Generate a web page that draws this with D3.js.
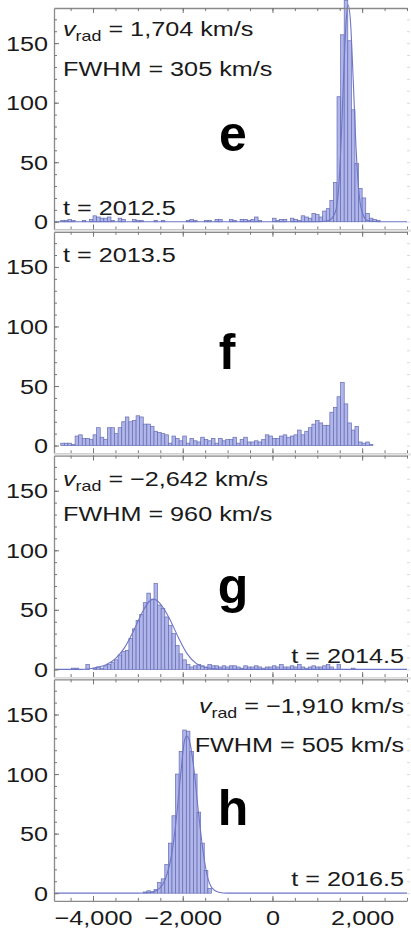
<!DOCTYPE html>
<html>
<head>
<meta charset="utf-8">
<script src="https://cdn.jsdelivr.net/npm/d3@7"></script>
<style>
  body { margin: 0; background: #fff; }
  svg { display: block; }
</style>
</head>
<body>
<svg id="chart" width="411" height="930"></svg>
<script>
// histogram bins: 80 km/s wide, first edge at -4720
const binStart = -4720;
const binWidth = 80;

const countsE = [
  1, 1, 2, 1, 0, 0, 1, 0, 2, 5,
  4, 3, 3, 4, 1, 0, 3, 2, 0, 0,
  2, 1, 1, 0, 0, 0, 1, 0, 1, 0,
  0, 0, 0, 0, 0, 1, 2, 1, 0, 0,
  1, 1, 0, 2, 2, 0, 0, 2, 1, 0,
  2, 2, 1, 2, 4, 1, 0, 0, 0, 3,
  1, 2, 2, 0, 3, 2, 1, 5, 4, 3,
  7, 6, 4, 9, 11, 18, 33, 105, 157, 186,
  152, 94, 49, 28, 20, 7, 3, 2, 1
];
const countsF = [
  2, 2, 2, 1, 8, 9, 6, 6, 5, 9,
  15, 7, 5, 15, 15, 10, 15, 20, 24, 20,
  21, 25, 24, 18, 18, 16, 12, 11, 10, 9,
  2, 8, 6, 4, 8, 2, 6, 4, 3, 7,
  5, 4, 6, 2, 6, 4, 5, 5, 7, 2,
  5, 7, 3, 3, 4, 3, 5, 9, 8, 6,
  6, 8, 9, 7, 8, 9, 13, 9, 12, 15,
  18, 21, 19, 17, 17, 28, 32, 41, 53, 35,
  19, 13, 16, 3, 2, 3, 1
];
const countsG = [
  0, 0, 0, 1, 1, 0, 0, 4, 0, 1,
  2, 1, 3, 4, 6, 8, 12, 15, 16, 26,
  34, 41, 46, 56, 64, 59, 72, 54, 51, 44,
  37, 30, 20, 13, 8, 4, 2, 3, 4, 3,
  2, 4, 3, 3, 2, 3, 2, 3, 3, 2,
  1, 3, 2, 2, 3, 2, 1, 2, 2, 3,
  2, 4, 2, 2, 3, 2, 4, 2, 1, 2,
  3, 2, 2, 3, 4, 2, 0, 4, 0, 0,
  0, 1
];
const countsH = [
  0, 0, 0, 0, 0, 0, 0, 0, 0, 0,
  0, 0, 0, 0, 0, 0, 0, 0, 0, 0,
  0, 0, 0, 1, 2, 1, 3, 9, 12, 24,
  42, 65, 100, 119, 137, 136, 119, 100, 68, 42,
  19, 4
];

// gaussian fit curves: [velocity, count]
const fitE = [[-4870, 0], [1000, 0], [1250, 1], [1400, 8], [1480, 30], [1540, 75], [1600, 135],
  [1650, 172], [1690, 182], [1740, 168], [1800, 120], [1860, 65], [1920, 28], [2000, 8],
  [2120, 1], [2400, 0], [3000, 0]];
const fitG = [[-4870, 0], [-4300, 0], [-4000, 1], [-3700, 4], [-3500, 9], [-3300, 18],
  [-3100, 32], [-2900, 48], [-2750, 57], [-2640, 59], [-2500, 55], [-2300, 43], [-2100, 27],
  [-1900, 13], [-1700, 5], [-1500, 1.5], [-1200, 0.3], [-900, 0], [3000, 0]];
const fitH = [[-4870, 0], [-3000, 0], [-2750, 0.5], [-2600, 2], [-2450, 7], [-2350, 16],
  [-2250, 32], [-2150, 60], [-2050, 98], [-1960, 128], [-1910, 132], [-1850, 128],
  [-1750, 104], [-1650, 68], [-1550, 36], [-1450, 14], [-1350, 4.5], [-1200, 0.8],
  [-1000, 0], [3000, 0]];

const panelLetters = ['e', 'f', 'g', 'h'];
const epochLabels = ['t = 2012.5', 't = 2013.5', 't = 2014.5', 't = 2016.5'];
const vradLabels = ['1,704', null, '\u22122,642', '\u22121,910'];
const fwhmLabels = ['305', null, '960', '505'];

const xMajorTicks = [-4000, -2000, 0, 2000];
const yMajorTicks = [0, 50, 100, 150];

// layout
const font = '"Liberation Sans", Arial, Helvetica, sans-serif';
const textSize = 20.5;
const stretch = 1.23;     // text in the figure is horizontally stretched
const panelTop0 = 8;
const panelH = 221.5;
const panelStep = 223.8;

// per panel annotation placement (px, relative to panel top)
const layout = [
  {anchor: 'start', tx: 63, vY: 28, fY: 68, tAnchor: 'start', tX: 63, tY: 207, lx: 233, ly: 143},
  {tAnchor: 'start', tX: 63, tY: 30, lx: 227, ly: 137},
  {anchor: 'start', tx: 63, vY: 30, fY: 65, tAnchor: 'end', tX: 404, tY: 207, lx: 233, ly: 147},
  {anchor: 'end', tx: 404, vY: 34, fY: 73, tAnchor: 'end', tX: 404, tY: 207, lx: 233, ly: 146}
];

const allCounts = [countsE, countsF, countsG, countsH];
const allFits = [fitE, null, fitG, fitH];

const svg = d3.select('#chart');
const x = d3.scaleLinear().domain([-4870, 3000]).range([54, 407]);

const fmt = d3.format(',');

panelLetters.forEach((letter, i) => {
  const top = panelTop0 + panelStep * i;
  const bottom = top + panelH;
  const y = d3.scaleLinear().domain([-6.5, 179.5]).range([bottom, top]);
  const g = svg.append('g').attr('class', 'panel-' + letter);

  // separator band between panels
  if (i > 0) {
    g.append('rect')
      .attr('x', 54).attr('width', 357)
      .attr('y', top - (panelStep - panelH)).attr('height', panelStep - panelH)
      .attr('fill', '#e4e4e4');
  }

  // bars
  const bins = allCounts[i]
    .map((c, k) => ({x0: binStart + k * binWidth, x1: binStart + (k + 1) * binWidth, c: c}))
    .filter(d => d.c > 0);
  g.append('g')
    .selectAll('rect')
    .data(bins)
    .enter()
    .append('rect')
    .attr('x', d => x(d.x0))
    .attr('width', d => x(d.x1) - x(d.x0))
    .attr('y', d => y(d.c))
    .attr('height', d => y(0) - y(d.c))
    .attr('fill', '#b1b6ea')
    .attr('stroke', '#646cb2')
    .attr('stroke-width', 0.7);

  // fit
  if (allFits[i]) {
    const line = d3.line()
      .x(d => x(d[0]))
      .y(d => y(d[1]))
      .curve(d3.curveMonotoneX);
    g.append('path')
      .datum(allFits[i])
      .attr('d', line)
      .attr('fill', 'none')
      .attr('stroke', '#6d75c6')
      .attr('stroke-width', 1.1);
  }

  // frame: bottom & top x ticks
  const xb = g.append('g')
    .attr('transform', `translate(0,${bottom})`)
    .call(d3.axisBottom(x).tickValues(xMajorTicks).tickSize(-5).tickSizeOuter(0)
      .tickFormat(i === 3 ? fmt : () => ''));
  g.append('g')
    .attr('transform', `translate(0,${bottom})`)
    .call(d3.axisBottom(x).ticks(16).tickSize(-3).tickSizeOuter(0).tickFormat(''))
    .select('.domain').remove();
  g.append('g')
    .attr('transform', `translate(0,${top})`)
    .call(d3.axisTop(x).tickValues(xMajorTicks).tickSize(-5).tickSizeOuter(0).tickFormat(''));
  g.append('g')
    .attr('transform', `translate(0,${top})`)
    .call(d3.axisTop(x).ticks(16).tickSize(-3).tickSizeOuter(0).tickFormat(''))
    .select('.domain').remove();

  // left y axis
  const yl = g.append('g')
    .attr('transform', `translate(54,0)`)
    .call(d3.axisLeft(y).tickValues(yMajorTicks).tickSize(-5).tickSizeOuter(0));
  g.append('g')
    .attr('transform', `translate(54,0)`)
    .call(d3.axisLeft(y).tickValues(d3.range(0, 180, 10)).tickSize(-3).tickSizeOuter(0).tickFormat(''))
    .select('.domain').remove();

  // faint right-side ticks
  g.append('g')
    .attr('transform', `translate(410,0)`)
    .call(d3.axisRight(y).tickValues(d3.range(0, 180, 10)).tickSize(-3).tickSizeOuter(0).tickFormat(''))
    .call(s => s.select('.domain').remove())
    .selectAll('line').attr('stroke', '#dcdcdc');

  g.selectAll('.domain').attr('stroke', '#8a8a8a').attr('stroke-width', 1.3);
  g.selectAll('.tick line').filter(function() { return this.getAttribute('stroke') !== '#dcdcdc'; })
    .attr('stroke', '#777');

  yl.selectAll('text')
    .attr('x', 0).attr('dy', null)
    .attr('transform', `translate(-6,7) scale(${stretch},1)`)
    .attr('font-family', font).attr('font-size', textSize).attr('fill', '#1a1a1a');

  if (i === 3) {
    xb.selectAll('text')
      .attr('y', 0).attr('dy', null)
      .attr('transform', `translate(0,24) scale(${stretch},1)`)
      .attr('font-family', font).attr('font-size', textSize).attr('fill', '#1a1a1a');
  }

  // annotations
  const L = layout[i];
  function label(px, py, anchor) {
    return g.append('g')
      .attr('transform', `translate(${px},${top + py}) scale(${stretch},1)`)
      .append('text')
      .attr('text-anchor', anchor)
      .attr('font-family', font)
      .attr('font-size', textSize)
      .attr('fill', '#1a1a1a');
  }
  if (vradLabels[i]) {
    const t = label(L.tx, L.vY, L.anchor);
    t.append('tspan').attr('font-style', 'italic').text('v');
    t.append('tspan').attr('font-size', 14.5).attr('dy', 5).text('rad');
    t.append('tspan').attr('dy', -5).text(' = ' + vradLabels[i] + ' km/s');
    label(L.tx, L.fY, L.anchor).text('FWHM = ' + fwhmLabels[i] + ' km/s');
  }
  label(L.tX, L.tY, L.tAnchor).text(epochLabels[i]);

  g.append('text')
    .attr('x', L.lx).attr('y', top + L.ly)
    .attr('text-anchor', 'middle')
    .attr('font-family', font)
    .attr('font-weight', 'bold')
    .attr('font-size', 50)
    .attr('fill', '#000')
    .text(letter);
});
</script>
</body>
</html>
